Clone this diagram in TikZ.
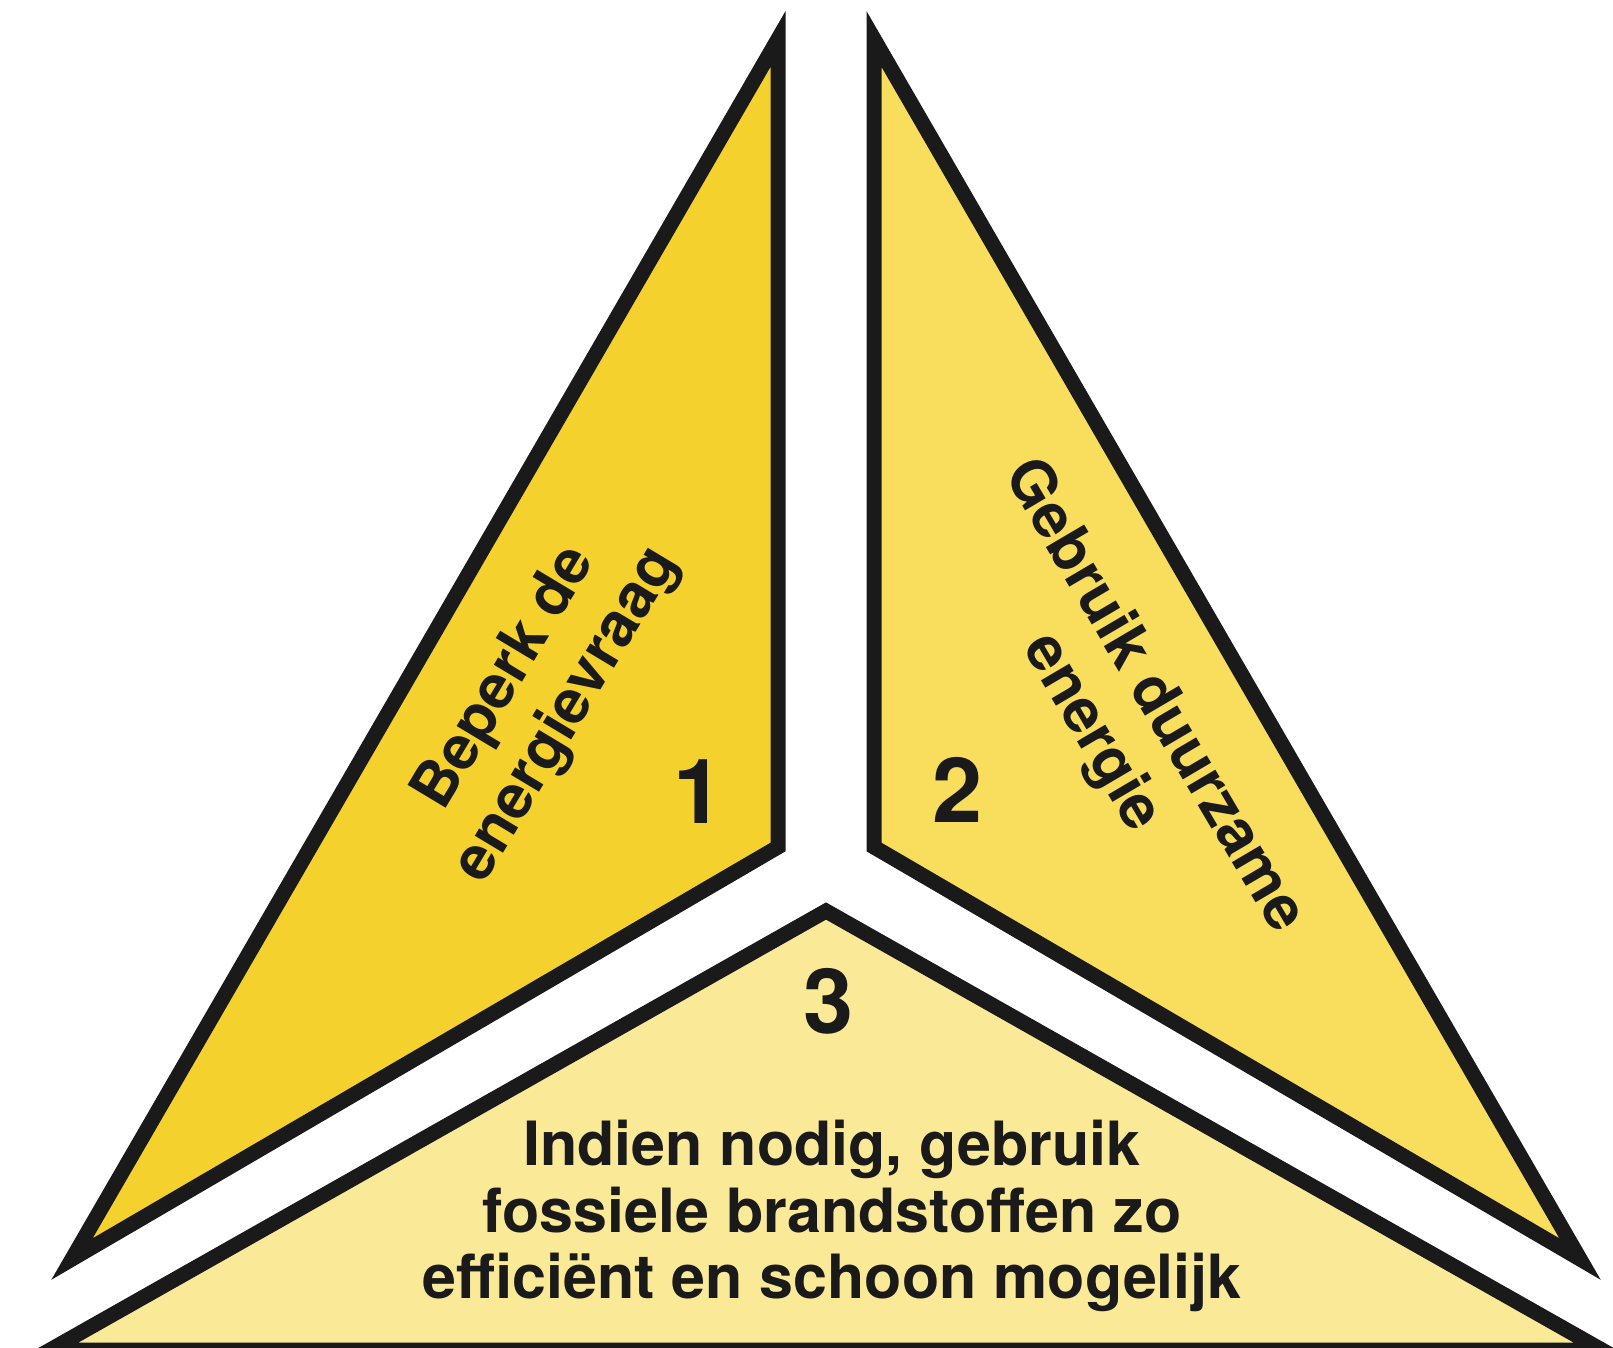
\documentclass[tikz,border=0pt]{standalone}
\usepackage{fontspec}
\setmainfont{TeX Gyre Heros}
\definecolor{yelA}{RGB}{245,209,46}
\definecolor{yelB}{RGB}{248,222,92}
\definecolor{yelC}{RGB}{250,234,152}
\definecolor{ink}{RGB}{26,26,26}
\begin{document}
\begin{tikzpicture}[x=1pt,y=-1pt,
  piece/.style={draw=ink,line width=15pt,line join=miter,miter limit=10},
  lbl/.style={font=\fontsize{61}{72}\selectfont\bfseries,text=ink,align=center,inner sep=0pt},
  lblc/.style={font=\fontsize{61}{66.5}\selectfont\bfseries,text=ink,align=center,inner sep=0pt},
  num/.style={font=\fontsize{90}{90}\selectfont\bfseries,text=ink,inner sep=0pt}]
\useasboundingbox (0,0) rectangle (1613,1347);
\fill[white] (0,0) rectangle (1613,1347);
% left triangle
\coordinate (Lt) at (778,39);
\coordinate (Lb) at (72,1259);
\coordinate (Li) at (778,847);
% right triangle
\coordinate (Rt) at (874,39);
\coordinate (Rb) at (1580,1259);
\coordinate (Ri) at (874,847);
% bottom triangle
\coordinate (Ba) at (826,911);
\coordinate (Bl) at (50,1350);
\coordinate (Br) at (1602,1350);
\filldraw[piece,fill=yelA] (Lt) -- (Lb) -- (Li) -- cycle;
\filldraw[piece,fill=yelB] (Rt) -- (Rb) -- (Ri) -- cycle;
\filldraw[piece,fill=yelC] (Ba) -- (Bl) -- (Br) -- cycle;
\node[lbl,rotate=59] (tA) at (537,697) {Beperk de\\energievraag};
\node[lbl,rotate=-59.5] (tB) at (1122,715) {Gebruik duurzame\\energie};
\node[lblc] (tC) at (832,1216) {Indien nodig, gebruik\\fossiele brandstoffen zo\\efficiënt en schoon mogelijk};
\node[num] (n1) at (699,792) {1};
\node[num] (n2) at (958,790) {2};
\node[num] (n3) at (829,1001) {3};
\end{tikzpicture}
\end{document}
